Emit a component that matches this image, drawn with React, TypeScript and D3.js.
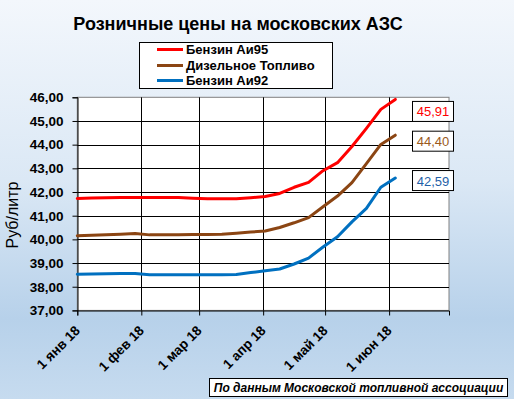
import { useRef, useEffect } from 'react';
import * as d3 from 'd3';

// weekly observations (Mondays), 2018
const dates = [
  '2018-01-01', '2018-01-08', '2018-01-15', '2018-01-22', '2018-01-29',
  '2018-02-05', '2018-02-12', '2018-02-19', '2018-02-26',
  '2018-03-05', '2018-03-12', '2018-03-19', '2018-03-26',
  '2018-04-02', '2018-04-09', '2018-04-16', '2018-04-23', '2018-04-30',
  '2018-05-07', '2018-05-14', '2018-05-21', '2018-05-28', '2018-06-04',
];
const ai95 = [41.73, 41.75, 41.76, 41.77, 41.77, 41.77, 41.77, 41.77, 41.74, 41.72, 41.72, 41.72, 41.76,
  41.81, 41.94, 42.20, 42.41, 42.90, 43.24, 43.92, 44.69, 45.49, 45.91];
const diesel = [40.15, 40.17, 40.20, 40.22, 40.25, 40.19, 40.20, 40.20, 40.21, 40.21, 40.22, 40.26, 40.31,
  40.35, 40.50, 40.70, 40.92, 41.38, 41.83, 42.40, 43.20, 44.01, 44.40];
const ai92 = [38.53, 38.54, 38.55, 38.56, 38.56, 38.51, 38.51, 38.51, 38.51, 38.51, 38.51, 38.52, 38.60,
  38.67, 38.75, 38.96, 39.21, 39.68, 40.11, 40.74, 41.31, 42.20, 42.59];

const seriesNames = ['Бензин Аи95', 'Дизельное Топливо', 'Бензин Аи92'];
const monthTicks = ['2018-01-01', '2018-02-01', '2018-03-01', '2018-04-01', '2018-05-01', '2018-06-01'];
const monthLabels = ['1 янв 18', '1 фев 18', '1 мар 18', '1 апр 18', '1 май 18', '1 июн 18'];
const yTicks = [37, 38, 39, 40, 41, 42, 43, 44, 45, 46];

const FONT = '"Liberation Sans", Arial, sans-serif';

function Chart() {
  const ref = useRef<SVGSVGElement>(null);

  useEffect(() => {
    const svg = d3.select(ref.current);
    svg.selectAll('*').remove();

    const W = 514, H = 399;
    const parse = d3.timeParse('%Y-%m-%d');
    const x = d3.scaleTime()
      .domain([parse('2018-01-01')!, parse('2018-06-30')!])
      .range([77.3, 449]);
    const y = d3.scaleLinear().domain([37, 46]).range([310.4, 97.3]);

    const defs = svg.append('defs');
    const grad = defs.append('linearGradient')
      .attr('id', 'bg').attr('x1', 0).attr('y1', 0).attr('x2', 0).attr('y2', 1);
    grad.append('stop').attr('offset', 0).attr('stop-color', '#f3f7fc');
    grad.append('stop').attr('offset', 0.45).attr('stop-color', '#dbe8f5');
    grad.append('stop').attr('offset', 0.8).attr('stop-color', '#b7d1ea');
    grad.append('stop').attr('offset', 1).attr('stop-color', '#c6dbef');

    svg.append('rect').attr('width', W).attr('height', H).attr('fill', 'url(#bg)');

    // title
    svg.append('text')
      .attr('x', 238).attr('y', 30)
      .attr('text-anchor', 'middle')
      .style('font', `bold 18px ${FONT}`)
      .text('Розничные цены на московских АЗС');

    // plot area
    svg.append('rect')
      .attr('x', 77.3).attr('y', 97.3)
      .attr('width', 449 - 77.3).attr('height', 310.4 - 97.3)
      .attr('fill', '#fff').attr('stroke', '#808080');

    const g = svg.append('g');

    // gridlines
    g.selectAll('.hgrid').data(yTicks.slice(1, -1)).enter().append('line')
      .attr('x1', 77.3).attr('x2', 449)
      .attr('y1', d => Math.round(y(d)) + 0.5).attr('y2', d => Math.round(y(d)) + 0.5)
      .attr('stroke', '#000').attr('stroke-width', 1);
    g.selectAll('.vgrid').data(monthTicks.slice(1)).enter().append('line')
      .attr('x1', d => Math.round(x(parse(d)!)) + 0.5).attr('x2', d => Math.round(x(parse(d)!)) + 0.5)
      .attr('y1', 97.3).attr('y2', 310.4)
      .attr('stroke', '#000').attr('stroke-width', 1);

    // y axis
    const yAxis = svg.append('g')
      .attr('transform', 'translate(77.5,0)')
      .call(d3.axisLeft(y).tickValues(yTicks).tickSize(5).tickPadding(9)
        .tickFormat(d => (+d).toFixed(2).replace('.', ',')));
    yAxis.select('.domain').attr('stroke', '#000');
    yAxis.selectAll('line').attr('stroke', '#000');
    yAxis.selectAll('text')
      .style('font', `bold 13.5px ${FONT}`).attr('fill', '#000');

    // x axis
    const xAxis = svg.append('g')
      .attr('transform', 'translate(0,310.5)')
      .call(d3.axisBottom(x).tickValues(monthTicks.map(d => parse(d)!)).tickSize(5)
        .tickFormat((_d, i) => monthLabels[i]));
    xAxis.select('.domain').attr('stroke', '#000');
    xAxis.selectAll('line').attr('stroke', '#000');
    xAxis.selectAll('text')
      .style('font', `bold 13.5px ${FONT}`).attr('fill', '#000')
      .attr('text-anchor', 'end')
      .attr('x', 0).attr('y', 0).attr('dy', 0)
      .attr('transform', 'translate(3,21) rotate(-45)');

    // y title
    svg.append('text')
      .attr('transform', 'translate(18,215) rotate(-90)')
      .attr('text-anchor', 'middle')
      .style('font', `16px ${FONT}`)
      .text('Руб/литр');

    // series
    const series = [
      { name: seriesNames[0], values: ai95, color: '#ff0000', text: '#ff0000', dy: 12 },
      { name: seriesNames[1], values: diesel, color: '#8b4513', text: '#9a5a1c', dy: 6 },
      { name: seriesNames[2], values: ai92, color: '#0070c0', text: '#1f5fa8', dy: 2.5 },
    ];
    const line = d3.line<number>()
      .x((_d, i) => x(parse(dates[i])!))
      .y(d => y(d));

    series.forEach(s => {
      svg.append('path')
        .datum(s.values)
        .attr('d', line)
        .attr('fill', 'none')
        .attr('stroke', s.color)
        .attr('stroke-width', 3)
        .attr('stroke-linejoin', 'round')
        .attr('stroke-linecap', 'round');

      const last = s.values[s.values.length - 1];
      const cy = y(last) + s.dy;
      svg.append('rect')
        .attr('x', 412.5).attr('y', cy - 10)
        .attr('width', 41).attr('height', 20)
        .attr('fill', '#fff').attr('stroke', '#000');
      svg.append('text')
        .attr('x', 433).attr('y', cy + 5)
        .attr('text-anchor', 'middle')
        .style('font', `13px ${FONT}`)
        .attr('fill', s.text)
        .text(last.toFixed(2).replace('.', ','));
    });

    // legend
    const lg = svg.append('g');
    lg.append('rect')
      .attr('x', 139.5).attr('y', 42.5).attr('width', 193).attr('height', 46)
      .attr('fill', '#fff').attr('stroke', '#000');
    const legendY = [49.5, 65.5, 80.5];
    series.forEach((s, i) => {
      lg.append('line')
        .attr('x1', 157).attr('x2', 183)
        .attr('y1', legendY[i]).attr('y2', legendY[i])
        .attr('stroke', s.color).attr('stroke-width', 3);
      lg.append('text')
        .attr('x', 186).attr('y', legendY[i] + 4.5)
        .style('font', `bold 13px ${FONT}`)
        .text(s.name);
    });

    // source note
    svg.append('rect')
      .attr('x', 209.5).attr('y', 378.5).attr('width', 298).attr('height', 18)
      .attr('fill', '#fff').attr('stroke', '#000');
    svg.append('text')
      .attr('x', 358.5).attr('y', 392)
      .attr('text-anchor', 'middle')
      .style('font', `italic bold 12px ${FONT}`)
      .text('По данным Московской топливной ассоциации');
  }, []);

  return <svg ref={ref} width={514} height={399}
    style={{ position: 'absolute', left: 0, top: 0, display: 'block' }} />;
}

export default function App() {
  return <Chart />;
}
